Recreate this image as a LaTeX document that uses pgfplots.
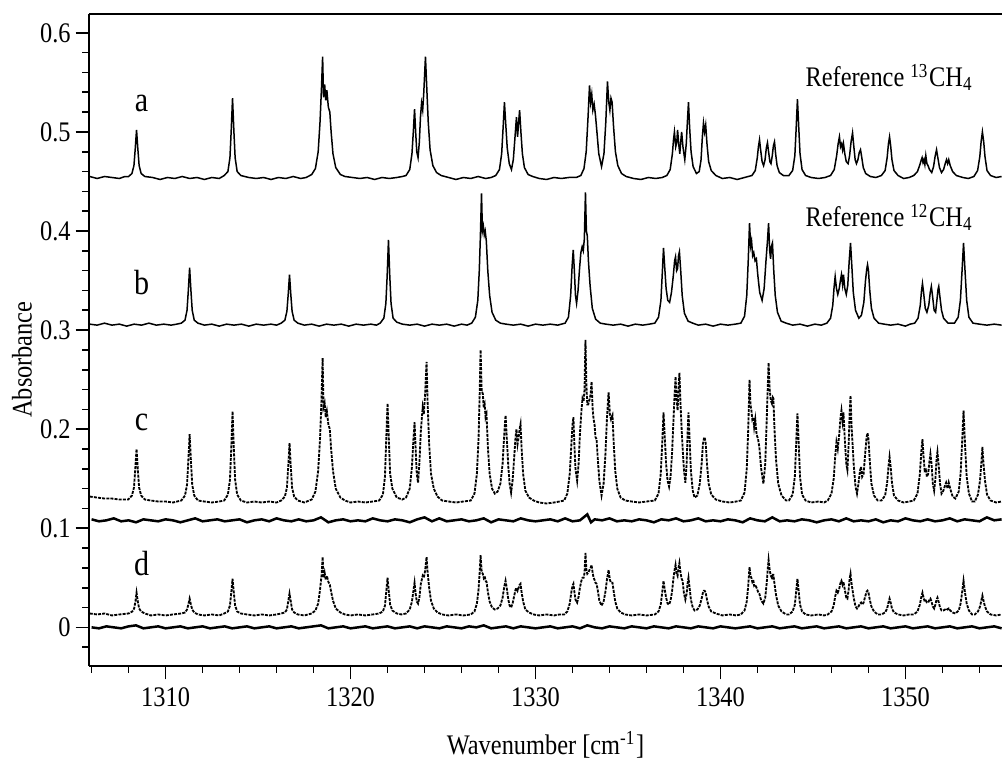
\documentclass[border=0pt]{standalone}
\usepackage{fontspec}
\setmainfont{Liberation Serif}[FakeStretch=0.86]
\usepackage{pgfplots}
\pgfplotsset{compat=1.18}

\begin{document}
\begin{tikzpicture}
\begin{axis}[
    scale only axis,
    width=273.9pt, height=195.6pt,
    xmin=1305.86, xmax=1355.22,
    ymin=-0.039, ymax=0.619,
    axis lines=left,
    axis line style={-, line width=0.6pt},
    clip=false,
    tick align=outside,
    major tick length=4pt, minor tick length=2pt,
    every tick/.style={black, line width=0.5pt},
    xtick={1310,1320,1330,1340,1350},
    minor xtick={1306,1308,...,1354},
    ytick={0,0.1,0.2,0.3,0.4,0.5,0.6},
    minor ytick={-0.02,0.02,0.04,0.06,0.08,0.12,0.14,0.16,0.18,0.22,0.24,0.26,0.28,0.32,0.34,0.36,0.38,0.42,0.44,0.46,0.48,0.52,0.54,0.56,0.58},
    /pgf/number format/assume math mode=true,
    xticklabel style={/pgf/number format/1000 sep={}, yshift=1pt},
    yticklabel style={xshift=2pt},
    tick label style={font=\fontsize{8.5}{10}\selectfont},
    label style={font=\fontsize{8.5}{10}\selectfont},
    xlabel={Wavenumber [cm\textsuperscript{-1}]},
    ylabel={Absorbance},
    ylabel style={at={(axis description cs:-0.0734,0.47)}, anchor=center},
    xlabel style={at={(axis description cs:0.5,-0.121)}, anchor=center},
]
% a: reference 13CH4
\addplot[black, line width=0.45pt] coordinates {
(1305.9,0.455)(1306.3,0.453)(1306.7,0.455)(1307.1,0.454)(1307.5,0.453)(1307.8,0.455)
(1308.0,0.455)(1308.18,0.458)(1308.29,0.466)(1308.36,0.483)(1308.43,0.502)(1308.5,0.483)(1308.57,0.466)(1308.68,0.458)(1308.88,0.455)
(1309.3,0.454)(1309.7,0.452)(1310.1,0.454)(1310.5,0.453)(1310.9,0.455)(1311.3,0.453)(1311.7,0.454)(1312.1,0.452)(1312.5,0.454)(1312.9,0.453)
(1313.17,0.456)(1313.37,0.46)(1313.48,0.474)(1313.55,0.502)(1313.62,0.534)(1313.69,0.502)(1313.76,0.474)(1313.87,0.46)(1314.07,0.456)
(1314.5,0.454)(1314.9,0.453)(1315.3,0.454)(1315.7,0.452)(1316.1,0.454)(1316.5,0.453)(1316.9,0.455)(1317.3,0.453)(1317.6,0.454)
(1317.9,0.457)(1318.1,0.463)(1318.25,0.48)(1318.35,0.51)(1318.43,0.545)(1318.49,0.576)(1318.54,0.535)(1318.6,0.548)(1318.66,0.532)(1318.72,0.542)(1318.8,0.525)(1318.88,0.52)(1318.95,0.5)(1319.05,0.478)(1319.2,0.464)(1319.45,0.457)(1319.7,0.455)
(1320.1,0.454)(1320.5,0.453)(1320.9,0.454)(1321.3,0.452)(1321.7,0.454)(1322.1,0.453)(1322.5,0.454)(1322.8,0.455)
(1323.0,0.456)(1323.2,0.462)(1323.32,0.478)(1323.4,0.502)(1323.46,0.523)(1323.52,0.5)(1323.58,0.48)(1323.65,0.474)(1323.72,0.49)(1323.78,0.515)(1323.84,0.529)(1323.9,0.522)(1323.96,0.54)(1324.05,0.576)(1324.12,0.545)(1324.2,0.51)(1324.3,0.482)(1324.45,0.466)(1324.65,0.459)(1324.9,0.456)
(1325.3,0.454)(1325.7,0.452)(1326.1,0.454)(1326.5,0.453)(1326.9,0.455)(1327.3,0.453)(1327.6,0.454)
(1327.85,0.456)(1328.05,0.462)(1328.17,0.478)(1328.25,0.505)(1328.32,0.53)(1328.39,0.508)(1328.47,0.484)(1328.58,0.468)(1328.7,0.462)(1328.8,0.472)(1328.88,0.492)(1328.97,0.515)(1329.03,0.495)(1329.08,0.508)(1329.14,0.522)(1329.21,0.5)(1329.29,0.478)(1329.4,0.464)(1329.6,0.457)(1329.85,0.455)
(1330.2,0.453)(1330.6,0.452)(1331.0,0.454)(1331.4,0.453)(1331.8,0.454)(1332.2,0.454)
(1332.45,0.456)(1332.62,0.463)(1332.74,0.48)(1332.84,0.515)(1332.92,0.547)(1332.98,0.53)(1333.04,0.538)(1333.1,0.522)(1333.17,0.528)(1333.24,0.517)(1333.32,0.5)(1333.42,0.478)(1333.57,0.465)(1333.7,0.478)(1333.8,0.51)(1333.89,0.551)(1333.96,0.53)(1334.02,0.522)(1334.08,0.534)(1334.14,0.53)(1334.22,0.505)(1334.32,0.48)(1334.45,0.466)(1334.65,0.458)(1334.9,0.455)
(1335.3,0.453)(1335.7,0.452)(1336.1,0.454)(1336.5,0.453)(1336.85,0.454)
(1337.1,0.456)(1337.28,0.462)(1337.4,0.478)(1337.46,0.492)(1337.51,0.5)(1337.58,0.485)(1337.64,0.49)(1337.68,0.502)(1337.74,0.488)(1337.8,0.478)(1337.86,0.492)(1337.9,0.5)(1337.97,0.485)(1338.07,0.472)(1338.15,0.488)(1338.21,0.51)(1338.27,0.53)(1338.33,0.505)(1338.41,0.48)(1338.52,0.465)(1338.7,0.458)
(1338.85,0.46)(1338.95,0.472)(1339.02,0.495)(1339.08,0.509)(1339.14,0.5)(1339.2,0.507)(1339.27,0.488)(1339.36,0.47)(1339.5,0.461)(1339.75,0.456)
(1340.1,0.453)(1340.5,0.454)(1340.9,0.452)(1341.3,0.454)
(1341.7,0.456)(1341.88,0.461)(1341.99,0.474)(1342.05,0.485)(1342.11,0.492)(1342.17,0.482)(1342.25,0.47)(1342.33,0.466)(1342.41,0.472)(1342.48,0.484)(1342.54,0.489)(1342.6,0.48)(1342.67,0.47)(1342.73,0.468)(1342.8,0.476)(1342.86,0.486)(1342.92,0.49)(1342.98,0.478)(1343.06,0.466)(1343.18,0.459)(1343.4,0.456)
(1343.7,0.456)(1343.9,0.461)(1344.02,0.476)(1344.09,0.503)(1344.16,0.533)(1344.23,0.505)(1344.3,0.478)(1344.41,0.462)(1344.6,0.456)
(1344.9,0.454)(1345.3,0.453)(1345.65,0.454)
(1345.95,0.456)(1346.15,0.462)(1346.28,0.476)(1346.36,0.488)(1346.43,0.495)(1346.49,0.485)(1346.55,0.488)(1346.6,0.482)(1346.65,0.488)(1346.72,0.478)(1346.8,0.47)(1346.9,0.468)(1346.98,0.476)(1347.06,0.49)(1347.14,0.499)(1347.21,0.485)(1347.28,0.472)(1347.35,0.468)(1347.43,0.472)(1347.5,0.479)(1347.57,0.482)(1347.64,0.474)(1347.72,0.464)(1347.85,0.458)(1348.1,0.455)
(1348.4,0.454)
(1348.7,0.456)(1348.9,0.461)(1349.01,0.474)(1349.08,0.488)(1349.14,0.495)(1349.2,0.486)(1349.27,0.472)(1349.38,0.461)(1349.6,0.456)
(1349.9,0.453)(1350.2,0.454)
(1350.45,0.456)(1350.65,0.46)(1350.78,0.467)(1350.86,0.472)(1350.9,0.474)(1350.95,0.469)(1351.0,0.472)(1351.05,0.467)(1351.1,0.476)(1351.16,0.468)(1351.22,0.466)(1351.3,0.462)(1351.42,0.459)(1351.52,0.465)(1351.6,0.475)(1351.68,0.482)(1351.75,0.474)(1351.84,0.464)(1351.95,0.459)(1352.06,0.462)(1352.15,0.468)(1352.22,0.472)(1352.28,0.468)(1352.34,0.472)(1352.42,0.466)(1352.55,0.46)(1352.75,0.456)
(1353.1,0.454)(1353.4,0.453)
(1353.7,0.455)(1353.9,0.461)(1354.02,0.475)(1354.09,0.49)(1354.16,0.5)(1354.23,0.49)(1354.3,0.475)(1354.41,0.461)(1354.6,0.456)(1354.9,0.454)(1355.2,0.455)
};
% b: reference 12CH4
\addplot[black, line width=0.45pt] coordinates {
(1305.9,0.306)(1306.3,0.305)(1306.7,0.307)(1307.1,0.305)(1307.5,0.306)(1307.9,0.304)(1308.3,0.306)(1308.7,0.305)(1309.1,0.307)(1309.5,0.305)(1309.9,0.306)(1310.3,0.305)(1310.6,0.306)
(1310.85,0.307)(1311.05,0.31)(1311.16,0.32)(1311.23,0.34)(1311.3,0.363)(1311.37,0.34)(1311.44,0.32)(1311.55,0.31)(1311.75,0.307)
(1312.1,0.305)(1312.5,0.306)(1312.9,0.304)(1313.3,0.306)(1313.7,0.305)(1314.1,0.306)(1314.5,0.304)(1314.9,0.306)(1315.3,0.305)(1315.7,0.306)(1316.0,0.305)
(1316.25,0.307)(1316.45,0.31)(1316.56,0.319)(1316.63,0.336)(1316.7,0.356)(1316.77,0.336)(1316.84,0.319)(1316.95,0.31)(1317.15,0.307)
(1317.5,0.305)(1317.9,0.306)(1318.3,0.304)(1318.7,0.306)(1319.1,0.305)(1319.5,0.306)(1319.9,0.304)(1320.3,0.306)(1320.7,0.305)(1321.1,0.306)(1321.4,0.305)
(1321.6,0.307)(1321.8,0.312)(1321.91,0.327)(1321.98,0.355)(1322.05,0.391)(1322.12,0.355)(1322.19,0.327)(1322.3,0.312)(1322.5,0.308)
(1322.8,0.306)(1323.2,0.305)(1323.6,0.306)(1324.0,0.304)(1324.4,0.306)(1324.8,0.305)(1325.2,0.306)(1325.6,0.304)(1326.0,0.306)(1326.3,0.305)
(1326.55,0.307)(1326.75,0.313)(1326.88,0.33)(1326.96,0.36)(1327.02,0.395)(1327.08,0.438)(1327.13,0.4)(1327.18,0.405)(1327.23,0.396)(1327.28,0.4)(1327.34,0.39)(1327.42,0.36)(1327.52,0.335)(1327.65,0.318)(1327.85,0.31)(1328.1,0.307)
(1328.4,0.306)(1328.8,0.305)(1329.2,0.306)(1329.6,0.304)(1330.0,0.306)(1330.4,0.305)(1330.8,0.306)(1331.2,0.305)
(1331.6,0.307)(1331.78,0.313)(1331.9,0.335)(1331.98,0.365)(1332.04,0.381)(1332.1,0.36)(1332.16,0.335)(1332.22,0.327)(1332.3,0.34)(1332.38,0.362)(1332.45,0.378)(1332.52,0.384)(1332.58,0.38)(1332.64,0.392)(1332.7,0.439)(1332.75,0.4)(1332.8,0.395)(1332.86,0.37)(1332.95,0.345)(1333.07,0.322)(1333.25,0.311)(1333.5,0.307)
(1333.8,0.306)(1334.2,0.305)(1334.6,0.306)(1335.0,0.304)(1335.4,0.306)(1335.8,0.305)(1336.15,0.306)
(1336.45,0.307)(1336.65,0.313)(1336.78,0.33)(1336.86,0.36)(1336.92,0.383)(1336.98,0.365)(1337.06,0.342)(1337.15,0.33)(1337.25,0.328)(1337.35,0.338)(1337.45,0.355)(1337.52,0.37)(1337.57,0.374)(1337.63,0.36)(1337.68,0.362)(1337.73,0.375)(1337.78,0.379)(1337.85,0.36)(1337.93,0.335)(1338.05,0.317)(1338.25,0.309)(1338.5,0.307)
(1338.8,0.305)(1339.2,0.306)(1339.6,0.304)(1340.0,0.306)(1340.4,0.305)(1340.8,0.306)
(1341.1,0.307)(1341.3,0.314)(1341.42,0.335)(1341.5,0.37)(1341.57,0.408)(1341.63,0.385)(1341.68,0.39)(1341.74,0.375)(1341.8,0.378)(1341.87,0.37)(1341.94,0.372)(1342.02,0.355)(1342.12,0.338)(1342.25,0.33)(1342.36,0.342)(1342.46,0.37)(1342.54,0.39)(1342.6,0.408)(1342.66,0.38)(1342.71,0.372)(1342.76,0.385)(1342.81,0.388)(1342.88,0.36)(1342.96,0.335)(1343.08,0.318)(1343.28,0.309)(1343.55,0.307)
(1343.9,0.305)(1344.3,0.306)(1344.7,0.304)(1345.1,0.306)(1345.45,0.305)
(1345.75,0.307)(1345.95,0.312)(1346.07,0.325)(1346.14,0.343)(1346.2,0.354)(1346.27,0.342)(1346.34,0.336)(1346.42,0.342)(1346.5,0.352)(1346.54,0.356)(1346.6,0.346)(1346.65,0.356)(1346.72,0.342)(1346.8,0.336)(1346.88,0.345)(1346.96,0.37)(1347.03,0.388)(1347.1,0.365)(1347.18,0.338)(1347.3,0.32)(1347.48,0.312)(1347.62,0.315)(1347.75,0.328)(1347.84,0.35)(1347.91,0.362)(1347.95,0.366)(1348.0,0.36)(1348.07,0.34)(1348.16,0.322)(1348.3,0.312)(1348.55,0.307)
(1348.85,0.306)(1349.2,0.305)(1349.6,0.306)(1350.0,0.304)(1350.25,0.306)
(1350.5,0.307)(1350.68,0.312)(1350.8,0.325)(1350.87,0.34)(1350.92,0.347)(1350.98,0.338)(1351.07,0.322)(1351.16,0.318)(1351.26,0.325)(1351.34,0.338)(1351.4,0.344)(1351.46,0.335)(1351.55,0.32)(1351.63,0.318)(1351.7,0.33)(1351.76,0.341)(1351.8,0.344)(1351.86,0.334)(1351.95,0.32)(1352.06,0.312)(1352.3,0.307)
(1352.65,0.307)(1352.85,0.313)(1352.97,0.33)(1353.06,0.36)(1353.14,0.388)(1353.22,0.36)(1353.31,0.33)(1353.43,0.313)(1353.65,0.307)
(1354.0,0.306)(1354.4,0.305)(1354.8,0.306)(1355.2,0.305)
};
% c: measured mixture
\addplot[black, line width=0.55pt, dash pattern=on 0.9pt off 0.35pt] coordinates {
(1305.9,0.132)(1306.3,0.131)(1306.7,0.130)(1307.1,0.130)(1307.5,0.129)
(1307.98,0.129)(1308.18,0.133)(1308.29,0.141)(1308.36,0.159)(1308.43,0.18)(1308.5,0.159)(1308.57,0.141)(1308.68,0.133)(1308.88,0.129)
(1309.2,0.128)(1309.6,0.127)(1310.0,0.127)(1310.4,0.126)
(1310.85,0.128)(1311.05,0.133)(1311.16,0.144)(1311.23,0.168)(1311.3,0.195)(1311.37,0.168)(1311.44,0.144)(1311.55,0.133)(1311.75,0.128)
(1312.1,0.127)(1312.5,0.126)(1312.9,0.127)
(1313.17,0.128)(1313.37,0.134)(1313.48,0.149)(1313.55,0.18)(1313.62,0.218)(1313.69,0.18)(1313.76,0.149)(1313.87,0.134)(1314.07,0.128)
(1314.4,0.126)(1314.8,0.127)(1315.2,0.126)(1315.6,0.127)(1316.0,0.126)
(1316.25,0.128)(1316.45,0.132)(1316.56,0.141)(1316.63,0.162)(1316.7,0.186)(1316.77,0.162)(1316.84,0.141)(1316.95,0.132)(1317.15,0.128)
(1317.5,0.126)
(1317.9,0.129)(1318.1,0.137)(1318.25,0.158)(1318.35,0.19)(1318.43,0.23)(1318.49,0.272)(1318.54,0.222)(1318.6,0.226)(1318.66,0.212)(1318.72,0.218)(1318.8,0.205)(1318.88,0.2)(1318.95,0.18)(1319.05,0.158)(1319.2,0.14)(1319.45,0.131)(1319.7,0.128)
(1320.0,0.126)(1320.4,0.127)(1320.8,0.126)(1321.2,0.127)
(1321.55,0.128)(1321.75,0.134)(1321.86,0.152)(1321.93,0.19)(1322.0,0.226)(1322.07,0.19)(1322.14,0.155)(1322.26,0.14)(1322.5,0.131)(1322.8,0.129)
(1323.0,0.131)(1323.2,0.14)(1323.32,0.162)(1323.4,0.19)(1323.46,0.207)(1323.52,0.18)(1323.58,0.155)(1323.65,0.146)(1323.72,0.165)(1323.8,0.198)(1323.9,0.222)(1323.96,0.215)(1324.03,0.235)(1324.11,0.268)(1324.17,0.225)(1324.25,0.185)(1324.35,0.155)(1324.5,0.14)(1324.7,0.132)(1324.95,0.128)
(1325.3,0.127)(1325.7,0.126)(1326.1,0.127)
(1326.5,0.128)(1326.7,0.135)(1326.83,0.155)(1326.92,0.19)(1326.98,0.235)(1327.03,0.28)(1327.09,0.238)(1327.15,0.236)(1327.2,0.222)(1327.25,0.225)(1327.3,0.212)(1327.35,0.215)(1327.43,0.18)(1327.52,0.155)(1327.65,0.14)(1327.8,0.135)
(1327.95,0.137)(1328.1,0.145)(1328.22,0.165)(1328.31,0.195)(1328.38,0.214)(1328.45,0.19)(1328.53,0.162)(1328.6,0.145)(1328.68,0.136)(1328.76,0.148)(1328.85,0.172)(1328.92,0.192)(1328.97,0.2)(1329.03,0.185)(1329.09,0.192)(1329.14,0.2)(1329.19,0.205)(1329.25,0.18)(1329.33,0.155)(1329.45,0.138)(1329.65,0.131)(1329.9,0.128)
(1330.2,0.126)(1330.6,0.125)(1331.0,0.126)(1331.3,0.127)
(1331.55,0.128)(1331.72,0.135)(1331.85,0.155)(1331.94,0.185)(1332.0,0.205)(1332.05,0.212)(1332.1,0.185)(1332.16,0.16)(1332.25,0.148)(1332.33,0.165)(1332.4,0.195)(1332.48,0.218)(1332.54,0.231)(1332.6,0.228)(1332.65,0.24)(1332.7,0.29)(1332.75,0.245)(1332.8,0.225)(1332.85,0.225)(1332.92,0.23)(1332.98,0.235)(1333.03,0.248)(1333.09,0.22)(1333.14,0.21)(1333.19,0.205)(1333.24,0.192)(1333.3,0.19)(1333.36,0.172)(1333.45,0.148)(1333.57,0.133)(1333.68,0.145)(1333.78,0.175)(1333.86,0.21)(1333.95,0.237)(1334.02,0.215)(1334.08,0.21)(1334.16,0.214)(1334.23,0.185)(1334.31,0.158)(1334.42,0.14)(1334.6,0.131)(1334.85,0.128)
(1335.2,0.127)(1335.6,0.126)(1336.0,0.127)
(1336.45,0.128)(1336.65,0.135)(1336.77,0.155)(1336.86,0.19)(1336.92,0.217)(1336.98,0.195)(1337.06,0.165)(1337.14,0.148)(1337.22,0.142)(1337.3,0.152)(1337.38,0.175)(1337.46,0.21)(1337.52,0.235)(1337.57,0.253)(1337.62,0.232)(1337.68,0.219)(1337.73,0.24)(1337.78,0.257)(1337.84,0.225)(1337.9,0.2)(1337.95,0.182)(1338.02,0.16)(1338.1,0.146)(1338.17,0.165)(1338.22,0.195)(1338.27,0.217)(1338.33,0.19)(1338.4,0.158)(1338.5,0.138)(1338.6,0.131)(1338.75,0.133)(1338.88,0.145)(1338.98,0.165)(1339.05,0.185)(1339.1,0.19)(1339.14,0.192)(1339.2,0.186)(1339.27,0.165)(1339.36,0.145)(1339.5,0.134)(1339.75,0.129)
(1340.1,0.127)(1340.5,0.126)(1340.85,0.127)
(1341.1,0.128)(1341.3,0.136)(1341.42,0.16)(1341.5,0.2)(1341.57,0.25)(1341.62,0.225)(1341.67,0.219)(1341.72,0.21)(1341.77,0.212)(1341.82,0.202)(1341.88,0.21)(1341.95,0.195)(1342.03,0.19)(1342.1,0.182)(1342.2,0.16)(1342.32,0.145)(1342.42,0.165)(1342.5,0.21)(1342.56,0.245)(1342.6,0.267)(1342.66,0.24)(1342.72,0.229)(1342.78,0.226)(1342.83,0.232)(1342.86,0.231)(1342.92,0.2)(1343.0,0.17)(1343.12,0.145)(1343.3,0.133)(1343.55,0.128)
(1343.7,0.128)(1343.9,0.134)(1344.02,0.152)(1344.09,0.185)(1344.16,0.216)(1344.23,0.185)(1344.3,0.152)(1344.41,0.134)(1344.6,0.128)
(1344.9,0.126)(1345.3,0.127)(1345.6,0.126)
(1345.8,0.128)(1346.0,0.135)(1346.12,0.15)(1346.2,0.172)(1346.27,0.187)(1346.34,0.18)(1346.42,0.195)(1346.49,0.212)(1346.54,0.219)(1346.6,0.208)(1346.65,0.217)(1346.72,0.19)(1346.8,0.165)(1346.86,0.159)(1346.93,0.185)(1346.98,0.215)(1347.03,0.234)(1347.08,0.205)(1347.12,0.192)(1347.2,0.165)(1347.3,0.142)(1347.38,0.135)(1347.46,0.145)(1347.54,0.158)(1347.6,0.162)(1347.66,0.152)(1347.74,0.155)(1347.82,0.175)(1347.9,0.192)(1347.95,0.196)(1348.0,0.19)(1348.07,0.168)(1348.16,0.145)(1348.3,0.133)(1348.5,0.128)
(1348.7,0.128)(1348.9,0.133)(1349.01,0.146)(1349.08,0.162)(1349.14,0.172)(1349.2,0.162)(1349.27,0.146)(1349.38,0.133)(1349.6,0.128)
(1349.9,0.126)(1350.2,0.127)
(1350.45,0.128)(1350.65,0.135)(1350.78,0.155)(1350.86,0.178)(1350.92,0.19)(1350.98,0.172)(1351.04,0.158)(1351.1,0.159)(1351.16,0.152)(1351.23,0.155)(1351.3,0.168)(1351.35,0.175)(1351.41,0.165)(1351.48,0.145)(1351.55,0.138)(1351.62,0.15)(1351.68,0.17)(1351.73,0.177)(1351.79,0.165)(1351.87,0.145)(1351.95,0.135)(1352.05,0.138)(1352.14,0.143)(1352.2,0.146)(1352.28,0.14)(1352.34,0.146)(1352.42,0.14)(1352.55,0.132)
(1352.7,0.13)(1352.88,0.137)(1352.98,0.155)(1353.06,0.185)(1353.14,0.219)(1353.22,0.185)(1353.31,0.152)(1353.43,0.135)(1353.6,0.127)
(1353.75,0.127)(1353.92,0.134)(1354.03,0.148)(1354.1,0.165)(1354.16,0.182)(1354.22,0.165)(1354.3,0.148)(1354.41,0.134)(1354.6,0.128)
(1354.9,0.126)(1355.2,0.127)
};
% residual of c
\addplot[black, line width=0.75pt] coordinates {
(1306.0,0.109)(1306.4,0.107)(1306.8,0.108)(1307.2,0.110)(1307.6,0.107)(1308.0,0.108)(1308.4,0.106)(1308.8,0.109)(1309.2,0.108)(1309.6,0.107)
(1310.0,0.109)(1310.4,0.108)(1310.8,0.106)(1311.2,0.108)(1311.6,0.110)(1312.0,0.107)(1312.4,0.108)(1312.8,0.109)(1313.2,0.107)(1313.6,0.108)
(1314.0,0.109)(1314.4,0.106)(1314.8,0.108)(1315.2,0.109)(1315.6,0.107)(1316.0,0.110)(1316.4,0.108)(1316.8,0.107)(1317.2,0.109)(1317.6,0.107)
(1318.0,0.108)(1318.4,0.111)(1318.8,0.106)(1319.2,0.108)(1319.6,0.109)(1320.0,0.107)(1320.4,0.108)(1320.8,0.107)(1321.2,0.110)(1321.6,0.108)
(1322.0,0.107)(1322.4,0.109)(1322.8,0.108)(1323.2,0.106)(1323.6,0.109)(1324.0,0.111)(1324.4,0.107)(1324.8,0.110)(1325.2,0.107)(1325.6,0.108)
(1326.0,0.109)(1326.4,0.107)(1326.8,0.108)(1327.2,0.110)(1327.6,0.106)(1328.0,0.109)(1328.4,0.108)(1328.8,0.107)(1329.2,0.110)(1329.6,0.108)
(1330.0,0.107)(1330.4,0.108)(1330.8,0.109)(1331.2,0.107)(1331.6,0.110)(1332.0,0.107)(1332.4,0.108)(1332.8,0.114)(1333.0,0.106)(1333.2,0.109)
(1333.6,0.108)(1334.0,0.110)(1334.4,0.107)(1334.8,0.108)(1335.2,0.107)(1335.6,0.109)(1336.0,0.108)(1336.4,0.106)(1336.8,0.109)(1337.2,0.108)
(1337.6,0.110)(1338.0,0.107)(1338.4,0.108)(1338.8,0.110)(1339.2,0.107)(1339.6,0.108)(1340.0,0.107)(1340.4,0.109)(1340.8,0.108)(1341.2,0.106)
(1341.6,0.110)(1342.0,0.108)(1342.4,0.107)(1342.8,0.111)(1343.2,0.107)(1343.6,0.108)(1344.0,0.107)(1344.4,0.109)(1344.8,0.108)(1345.2,0.106)
(1345.6,0.108)(1346.0,0.109)(1346.4,0.107)(1346.8,0.110)(1347.2,0.107)(1347.6,0.108)(1348.0,0.107)(1348.4,0.109)(1348.8,0.106)(1349.2,0.108)
(1349.6,0.107)(1350.0,0.110)(1350.4,0.108)(1350.8,0.107)(1351.2,0.109)(1351.6,0.107)(1352.0,0.108)(1352.4,0.110)(1352.8,0.107)(1353.2,0.109)
(1353.6,0.108)(1354.0,0.107)(1354.4,0.111)(1354.8,0.108)(1355.2,0.109)
};
% d: measured mixture, lower concentration
\addplot[black, line width=0.55pt, dash pattern=on 0.9pt off 0.35pt] coordinates {
(1305.9,0.014)(1306.3,0.013)(1306.7,0.014)(1307.1,0.012)(1307.5,0.013)
(1308.0,0.014)(1308.2,0.016)(1308.3,0.019)(1308.37,0.026)(1308.43,0.035)(1308.5,0.026)(1308.57,0.019)(1308.68,0.016)(1308.88,0.014)
(1309.2,0.012)(1309.6,0.013)(1310.0,0.012)(1310.4,0.013)
(1310.85,0.014)(1311.05,0.015)(1311.16,0.018)(1311.23,0.023)(1311.3,0.029)(1311.37,0.023)(1311.44,0.018)(1311.55,0.015)(1311.75,0.013)
(1312.1,0.012)(1312.5,0.013)(1312.9,0.012)
(1313.17,0.014)(1313.37,0.016)(1313.48,0.022)(1313.55,0.035)(1313.62,0.049)(1313.69,0.035)(1313.76,0.022)(1313.87,0.016)(1314.07,0.014)
(1314.4,0.013)(1314.8,0.012)(1315.2,0.013)(1315.6,0.012)(1316.0,0.013)
(1316.25,0.014)(1316.45,0.015)(1316.56,0.018)(1316.63,0.026)(1316.7,0.034)(1316.77,0.026)(1316.84,0.018)(1316.95,0.015)(1317.15,0.013)
(1317.5,0.012)
(1317.9,0.014)(1318.1,0.017)(1318.25,0.024)(1318.35,0.038)(1318.43,0.052)(1318.49,0.071)(1318.54,0.05)(1318.6,0.055)(1318.66,0.048)(1318.72,0.052)(1318.8,0.046)(1318.88,0.043)(1318.95,0.036)(1319.05,0.027)(1319.2,0.019)(1319.45,0.015)(1319.7,0.013)
(1320.0,0.012)(1320.4,0.013)(1320.8,0.012)(1321.2,0.013)
(1321.55,0.014)(1321.75,0.016)(1321.86,0.022)(1321.93,0.036)(1322.0,0.05)(1322.07,0.036)(1322.14,0.023)(1322.26,0.017)(1322.5,0.014)(1322.75,0.013)
(1323.0,0.014)(1323.2,0.018)(1323.32,0.026)(1323.4,0.037)(1323.46,0.045)(1323.52,0.034)(1323.58,0.026)(1323.65,0.024)(1323.72,0.03)(1323.8,0.044)(1323.9,0.052)(1323.96,0.05)(1324.03,0.057)(1324.11,0.071)(1324.17,0.055)(1324.25,0.04)(1324.35,0.027)(1324.5,0.019)(1324.7,0.015)(1324.95,0.013)
(1325.3,0.012)(1325.7,0.013)(1326.1,0.012)
(1326.5,0.013)(1326.7,0.016)(1326.83,0.024)(1326.92,0.038)(1326.98,0.055)(1327.03,0.073)(1327.09,0.056)(1327.15,0.054)(1327.2,0.05)(1327.25,0.052)(1327.3,0.047)(1327.35,0.046)(1327.43,0.035)(1327.52,0.026)(1327.65,0.02)(1327.8,0.018)
(1327.95,0.019)(1328.1,0.022)(1328.22,0.03)(1328.31,0.041)(1328.38,0.047)(1328.45,0.039)(1328.53,0.028)(1328.6,0.022)(1328.68,0.02)(1328.76,0.024)(1328.85,0.032)(1328.92,0.038)(1328.97,0.04)(1329.03,0.037)(1329.09,0.04)(1329.14,0.043)(1329.19,0.044)(1329.25,0.035)(1329.33,0.026)(1329.45,0.018)(1329.65,0.015)(1329.9,0.013)
(1330.2,0.012)(1330.6,0.013)(1331.0,0.012)(1331.3,0.013)
(1331.55,0.013)(1331.72,0.016)(1331.85,0.024)(1331.94,0.036)(1332.0,0.042)(1332.05,0.044)(1332.1,0.036)(1332.16,0.028)(1332.25,0.025)(1332.33,0.031)(1332.4,0.04)(1332.48,0.047)(1332.54,0.05)(1332.6,0.05)(1332.65,0.055)(1332.7,0.075)(1332.75,0.058)(1332.8,0.054)(1332.85,0.055)(1332.92,0.058)(1332.98,0.06)(1333.03,0.063)(1333.09,0.055)(1333.14,0.05)(1333.19,0.048)(1333.24,0.045)(1333.3,0.044)(1333.36,0.038)(1333.45,0.027)(1333.57,0.022)(1333.68,0.026)(1333.78,0.036)(1333.86,0.048)(1333.95,0.058)(1334.02,0.048)(1334.08,0.045)(1334.16,0.045)(1334.23,0.036)(1334.31,0.026)(1334.42,0.019)(1334.6,0.015)(1334.85,0.013)
(1335.2,0.012)(1335.6,0.013)(1336.0,0.012)
(1336.45,0.013)(1336.65,0.016)(1336.77,0.023)(1336.86,0.037)(1336.92,0.047)(1336.98,0.039)(1337.06,0.03)(1337.14,0.024)(1337.22,0.023)(1337.3,0.027)(1337.38,0.036)(1337.46,0.05)(1337.52,0.058)(1337.57,0.063)(1337.62,0.055)(1337.68,0.052)(1337.73,0.06)(1337.78,0.065)(1337.84,0.055)(1337.9,0.049)(1337.95,0.047)(1338.02,0.035)(1338.1,0.028)(1338.17,0.034)(1338.22,0.044)(1338.27,0.05)(1338.33,0.04)(1338.4,0.028)(1338.5,0.02)(1338.6,0.017)(1338.75,0.018)(1338.88,0.022)(1338.98,0.029)(1339.05,0.035)(1339.1,0.037)(1339.14,0.037)(1339.2,0.035)(1339.27,0.028)(1339.36,0.021)(1339.5,0.016)(1339.75,0.014)
(1340.1,0.012)(1340.5,0.013)(1340.85,0.012)
(1341.1,0.013)(1341.3,0.017)(1341.42,0.026)(1341.5,0.042)(1341.57,0.061)(1341.62,0.052)(1341.67,0.05)(1341.72,0.046)(1341.77,0.048)(1341.82,0.042)(1341.88,0.043)(1341.95,0.04)(1342.03,0.036)(1342.1,0.034)(1342.2,0.027)(1342.32,0.024)(1342.42,0.03)(1342.5,0.045)(1342.56,0.06)(1342.6,0.068)(1342.66,0.058)(1342.72,0.052)(1342.78,0.05)(1342.83,0.053)(1342.86,0.053)(1342.92,0.044)(1343.0,0.033)(1343.12,0.022)(1343.3,0.016)(1343.55,0.013)
(1343.7,0.013)(1343.9,0.016)(1344.02,0.023)(1344.09,0.036)(1344.16,0.049)(1344.23,0.036)(1344.3,0.023)(1344.41,0.016)(1344.6,0.013)
(1344.9,0.012)(1345.3,0.013)(1345.6,0.012)
(1345.8,0.013)(1346.0,0.016)(1346.12,0.022)(1346.2,0.031)(1346.27,0.037)(1346.34,0.035)(1346.42,0.039)(1346.49,0.045)(1346.54,0.047)(1346.6,0.043)(1346.65,0.046)(1346.72,0.038)(1346.8,0.03)(1346.86,0.029)(1346.93,0.038)(1346.98,0.049)(1347.03,0.054)(1347.08,0.045)(1347.12,0.04)(1347.2,0.03)(1347.3,0.021)(1347.38,0.019)(1347.46,0.021)(1347.54,0.024)(1347.6,0.025)(1347.66,0.023)(1347.74,0.025)(1347.82,0.031)(1347.9,0.036)(1347.95,0.037)(1348.0,0.035)(1348.07,0.028)(1348.16,0.021)(1348.3,0.016)(1348.5,0.013)
(1348.7,0.013)(1348.9,0.015)(1349.01,0.019)(1349.08,0.025)(1349.14,0.029)(1349.2,0.025)(1349.27,0.019)(1349.38,0.015)(1349.6,0.013)
(1349.9,0.012)(1350.2,0.013)
(1350.45,0.013)(1350.65,0.016)(1350.78,0.023)(1350.86,0.031)(1350.92,0.035)(1350.98,0.03)(1351.04,0.026)(1351.1,0.027)(1351.16,0.025)(1351.23,0.025)(1351.3,0.028)(1351.35,0.029)(1351.41,0.026)(1351.48,0.021)(1351.55,0.019)(1351.62,0.023)(1351.68,0.028)(1351.73,0.03)(1351.79,0.026)(1351.87,0.02)(1351.95,0.017)(1352.05,0.017)(1352.14,0.018)(1352.2,0.019)(1352.28,0.018)(1352.34,0.019)(1352.42,0.017)(1352.55,0.015)
(1352.7,0.014)(1352.88,0.017)(1352.98,0.024)(1353.06,0.035)(1353.14,0.047)(1353.22,0.035)(1353.31,0.024)(1353.43,0.017)(1353.6,0.013)
(1353.75,0.013)(1353.92,0.016)(1354.03,0.021)(1354.1,0.027)(1354.16,0.032)(1354.22,0.027)(1354.3,0.021)(1354.41,0.016)(1354.6,0.013)
(1354.9,0.012)(1355.2,0.013)
};
% residual of d
\addplot[black, line width=0.75pt] coordinates {
(1306.0,0.000)(1306.4,-0.001)(1306.8,0.001)(1307.2,0.000)(1307.6,-0.001)(1308.0,0.001)(1308.4,0.002)(1308.8,-0.001)(1309.2,0.000)(1309.6,0.001)
(1310.0,-0.001)(1310.4,0.000)(1310.8,0.001)(1311.2,-0.001)(1311.6,0.000)(1312.0,0.001)(1312.4,-0.001)(1312.8,0.000)(1313.2,0.001)(1313.6,-0.001)
(1314.0,0.000)(1314.4,0.001)(1314.8,-0.001)(1315.2,0.000)(1315.6,0.001)(1316.0,-0.001)(1316.4,0.000)(1316.8,0.001)(1317.2,-0.001)(1317.6,0.000)
(1318.0,0.001)(1318.4,0.002)(1318.8,-0.001)(1319.2,0.000)(1319.6,0.001)(1320.0,-0.001)(1320.4,0.000)(1320.8,0.001)(1321.2,-0.001)(1321.6,0.000)
(1322.0,0.001)(1322.4,-0.001)(1322.8,0.000)(1323.2,0.001)(1323.6,-0.001)(1324.0,0.001)(1324.4,0.000)(1324.8,-0.001)(1325.2,0.001)(1325.6,0.000)
(1326.0,-0.001)(1326.4,0.001)(1326.8,0.000)(1327.2,0.002)(1327.6,-0.001)(1328.0,0.000)(1328.4,0.001)(1328.8,-0.001)(1329.2,0.001)(1329.6,0.000)
(1330.0,-0.001)(1330.4,0.000)(1330.8,0.001)(1331.2,-0.001)(1331.6,0.000)(1332.0,0.001)(1332.4,-0.001)(1332.8,0.002)(1333.2,0.000)(1333.6,-0.001)
(1334.0,0.001)(1334.4,0.000)(1334.8,-0.001)(1335.2,0.001)(1335.6,0.000)(1336.0,-0.001)(1336.4,0.001)(1336.8,0.000)(1337.2,-0.001)(1337.6,0.001)
(1338.0,0.000)(1338.4,-0.001)(1338.8,0.001)(1339.2,0.000)(1339.6,-0.001)(1340.0,0.001)(1340.4,0.000)(1340.8,-0.001)(1341.2,0.000)(1341.6,0.001)
(1342.0,-0.001)(1342.4,0.000)(1342.8,0.001)(1343.2,-0.001)(1343.6,0.000)(1344.0,0.001)(1344.4,-0.001)(1344.8,0.000)(1345.2,0.001)(1345.6,-0.001)
(1346.0,0.000)(1346.4,0.001)(1346.8,-0.001)(1347.2,0.000)(1347.6,0.001)(1348.0,-0.001)(1348.4,0.000)(1348.8,0.001)(1349.2,-0.001)(1349.6,0.000)
(1350.0,0.001)(1350.4,-0.001)(1350.8,0.000)(1351.2,0.001)(1351.6,-0.001)(1352.0,0.000)(1352.4,0.001)(1352.8,-0.001)(1353.2,0.000)(1353.6,0.001)
(1354.0,-0.001)(1354.4,0.000)(1354.8,0.001)(1355.2,-0.001)
};
\draw[line width=0.6pt] (rel axis cs:0,1) -- (rel axis cs:1,1);
\node[font=\fontsize{10.5}{12}\selectfont] at (axis cs:1308.7,0.529) {a};
\node[font=\fontsize{10.5}{12}\selectfont] at (axis cs:1308.7,0.348) {b};
\node[font=\fontsize{10.5}{12}\selectfont] at (axis cs:1308.7,0.207) {c};
\node[font=\fontsize{10.5}{12}\selectfont] at (axis cs:1308.7,0.064) {d};
\node[anchor=east, font=\fontsize{8.5}{10}\selectfont] at (axis cs:1354.3,0.555) {Reference \textsuperscript{13}CH\textsubscript{4}};
\node[anchor=east, font=\fontsize{8.5}{10}\selectfont] at (axis cs:1354.3,0.414) {Reference \textsuperscript{12}CH\textsubscript{4}};
\end{axis}
\path (current axis.south west) ++(-26.7pt,-30.9pt) coordinate (bl);
\path (current axis.north east) ++(1.2pt,4.2pt) coordinate (tr);
\path (bl) rectangle (tr);
\end{tikzpicture}
\end{document}
